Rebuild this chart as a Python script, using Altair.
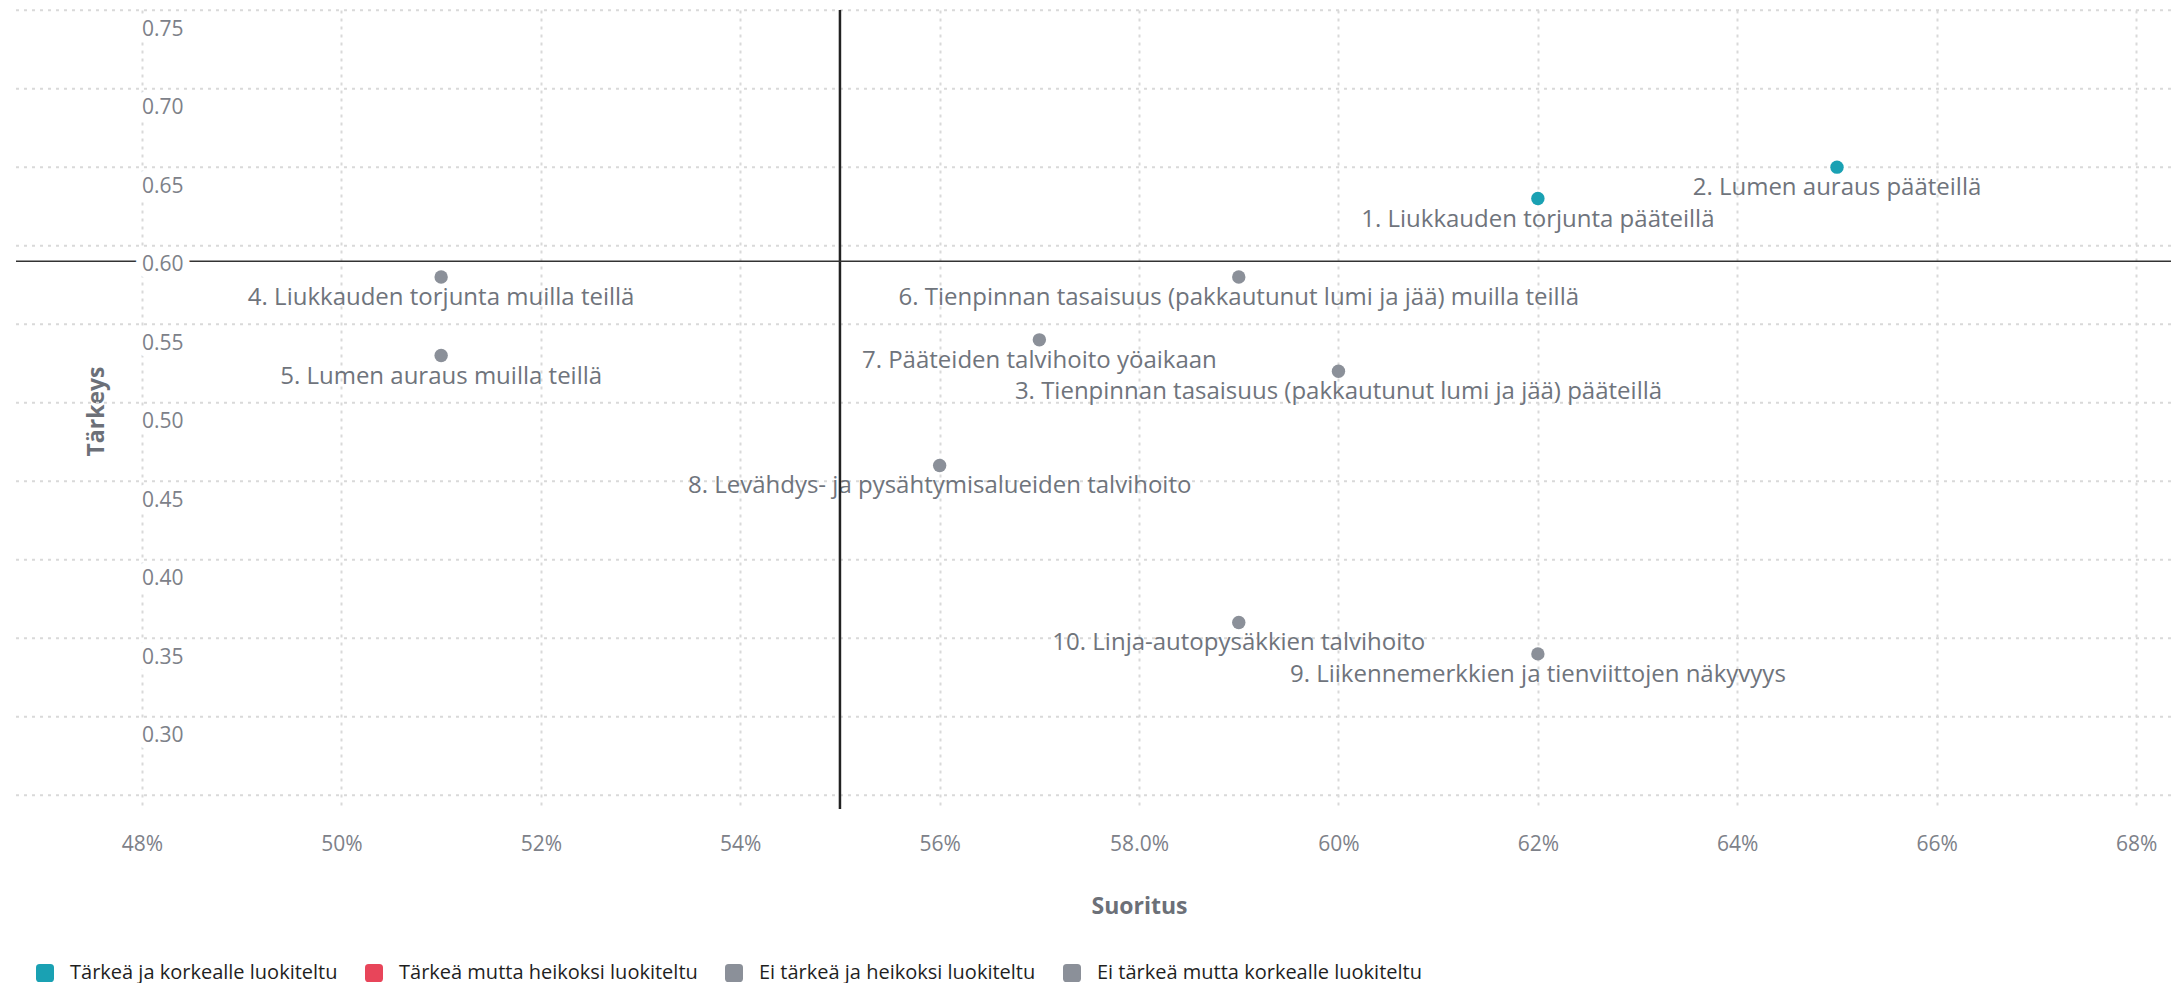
import altair as alt
import pandas as pd

# ---------------- data ----------------
LABELS = [
    "1. Liukkauden torjunta pääteillä",
    "2. Lumen auraus pääteillä",
    "3. Tienpinnan tasaisuus (pakkautunut lumi ja jää) pääteillä",
    "4. Liukkauden torjunta muilla teillä",
    "5. Lumen auraus muilla teillä",
    "6. Tienpinnan tasaisuus (pakkautunut lumi ja jää) muilla teillä",
    "7. Pääteiden talvihoito yöaikaan",
    "8. Levähdys- ja pysähtymisalueiden talvihoito",
    "9. Liikennemerkkien ja tienviittojen näkyvyys",
    "10. Linja-autopysäkkien talvihoito",
]
SUORITUS = [62, 65, 60, 51, 51, 59, 57, 56, 62, 59]
TARKEYS = [0.64, 0.66, 0.53, 0.59, 0.54, 0.59, 0.55, 0.47, 0.35, 0.37]
GROUP = [
    "Tärkeä ja korkealle luokiteltu",
    "Tärkeä ja korkealle luokiteltu",
    "Ei tärkeä mutta korkealle luokiteltu",
    "Ei tärkeä ja heikoksi luokiteltu",
    "Ei tärkeä ja heikoksi luokiteltu",
    "Ei tärkeä mutta korkealle luokiteltu",
    "Ei tärkeä mutta korkealle luokiteltu",
    "Ei tärkeä mutta korkealle luokiteltu",
    "Ei tärkeä mutta korkealle luokiteltu",
    "Ei tärkeä mutta korkealle luokiteltu",
]
CATEGORIES = [
    "Tärkeä ja korkealle luokiteltu",
    "Tärkeä mutta heikoksi luokiteltu",
    "Ei tärkeä ja heikoksi luokiteltu",
    "Ei tärkeä mutta korkealle luokiteltu",
]
COLORS = ["#1aa1b3", "#e8455a", "#8b9099", "#8b9099"]

X_TICKS = [48, 50, 52, 54, 56, 58, 60, 62, 64, 66, 68]
X_TICK_LABELS = ["48%", "50%", "52%", "54%", "56%", "58.0%", "60%", "62%", "64%", "66%", "68%"]
Y_TICKS = [0.30, 0.35, 0.40, 0.45, 0.50, 0.55, 0.60, 0.65, 0.70, 0.75]
Y_TICK_LABELS = ["0.30", "0.35", "0.40", "0.45", "0.50", "0.55", "0.60", "0.65", "0.70", "0.75"]
Y_GRID = [0.26, 0.31, 0.36, 0.41, 0.46, 0.51, 0.56, 0.61, 0.66, 0.71, 0.76]
X_REF = [55]
Y_REF = [0.60]

X_DOMAIN = [46.736, 68.35]
Y_DOMAIN = [0.2512, 0.7601]

# ---------------- tables ----------------
df_pts = pd.DataFrame({"suoritus": SUORITUS, "tarkeys": TARKEYS, "label": LABELS, "group": GROUP})
df_grid = pd.DataFrame({"gy": Y_GRID})
df_xref = pd.DataFrame({"rx": X_REF})
df_yref = pd.DataFrame({"ry": Y_REF})
df_yt = pd.DataFrame({"tv": Y_TICKS, "tl": Y_TICK_LABELS, "tx": [X_TICKS[0]] * len(Y_TICKS)})

label_expr = "''"
for v, l in reversed(list(zip(X_TICKS, X_TICK_LABELS))):
    label_expr = f"datum.value == {v} ? '{l}' : ({label_expr})"

FONT = "Open Sans"
TICK_COLOR = "#7d8189"
TITLE_COLOR = "#6c7078"

x_scale = alt.Scale(domain=X_DOMAIN, nice=False, zero=False)
y_scale = alt.Scale(domain=Y_DOMAIN, nice=False, zero=False)

X_AXIS = alt.Axis(
    values=X_TICKS, labelExpr=label_expr, title="Suoritus",
    grid=True, gridDash=[3, 5], gridColor="#d9d9d9", gridWidth=2,
    domain=False, ticks=False, tickSize=0,
    labelFont=FONT, labelFontSize=21, labelColor=TICK_COLOR,
    labelBaseline="middle", labelPadding=35,
    titleFont=FONT, titleFontSize=23, titleFontWeight="bold", titleColor=TITLE_COLOR,
    titleX=1123, titleY=97, titleBaseline="middle", titleAlign="center",
)
Y_AXIS = alt.Axis(
    labels=False, grid=False, domain=False, ticks=False, title="Tärkeys",
    titleFont=FONT, titleFontSize=23, titleFontWeight="bold", titleColor=TITLE_COLOR,
    titleX=80, titleY=401, titleBaseline="middle", titleAlign="center", titleAngle=270,
)

ROUNDED = "M-0.6,-1H0.6Q1,-1 1,-0.6V0.6Q1,1 0.6,1H-0.6Q-1,1 -1,0.6V-0.6Q-1,-1 -0.6,-1Z"

hgrid = alt.Chart(df_grid).mark_rule(strokeDash=[3, 5], color="#d9d9d9", strokeWidth=2).encode(
    y=alt.Y("gy:Q", scale=y_scale, axis=Y_AXIS)
)

point_labels = alt.Chart(df_pts).mark_text(
    dy=21, fontSize=24, font=FONT, color="#6f747c", align="center", baseline="middle"
).encode(
    x=alt.X("suoritus:Q", scale=x_scale, axis=X_AXIS),
    y=alt.Y("tarkeys:Q", scale=y_scale, axis=Y_AXIS),
    text="label:N",
)

vref = alt.Chart(df_xref).mark_rule(color="#222222", strokeWidth=2.5).encode(
    x=alt.X("rx:Q", scale=x_scale, axis=X_AXIS)
)
href = alt.Chart(df_yref).mark_rule(color="#333333", strokeWidth=1.5).encode(
    y=alt.Y("ry:Q", scale=y_scale, axis=Y_AXIS)
)

ylab_halo = alt.Chart(df_yt).mark_text(
    align="left", baseline="middle", dy=4, fontSize=21, font=FONT,
    color="white", stroke="white", strokeWidth=14,
).encode(
    x=alt.X("tx:Q", scale=x_scale, axis=X_AXIS),
    y=alt.Y("tv:Q", scale=y_scale, axis=Y_AXIS),
    text="tl:N",
)
ylab = alt.Chart(df_yt).mark_text(
    align="left", baseline="middle", dy=4, fontSize=21, font=FONT, color=TICK_COLOR,
).encode(
    x=alt.X("tx:Q", scale=x_scale, axis=X_AXIS),
    y=alt.Y("tv:Q", scale=y_scale, axis=Y_AXIS),
    text="tl:N",
)

points = alt.Chart(df_pts).mark_point(filled=True, size=180, opacity=1).encode(
    x=alt.X("suoritus:Q", scale=x_scale, axis=X_AXIS),
    y=alt.Y("tarkeys:Q", scale=y_scale, axis=Y_AXIS),
    color=alt.Color(
        "group:N",
        scale=alt.Scale(domain=CATEGORIES, range=COLORS),
        legend=alt.Legend(
            title=None, orient="none", legendX=19, legendY=953, direction="horizontal",
            columns=4, symbolType=ROUNDED, symbolSize=324, symbolStrokeWidth=0,
            symbolOpacity=1, labelFont=FONT, labelFontSize=20, labelColor="#1f1f1f",
            labelOffset=15, columnPadding=26, labelLimit=600,
        ),
    ),
)

chart = alt.layer(
    hgrid, point_labels, vref, href, ylab_halo, ylab, points
).properties(
    width=2155, height=799,
    padding={"left": 7, "top": 0, "right": 0, "bottom": 0},
    background="white",
).configure_view(stroke=None)

chart.save("out.html", embed_options={"renderer": "svg", "actions": False})
